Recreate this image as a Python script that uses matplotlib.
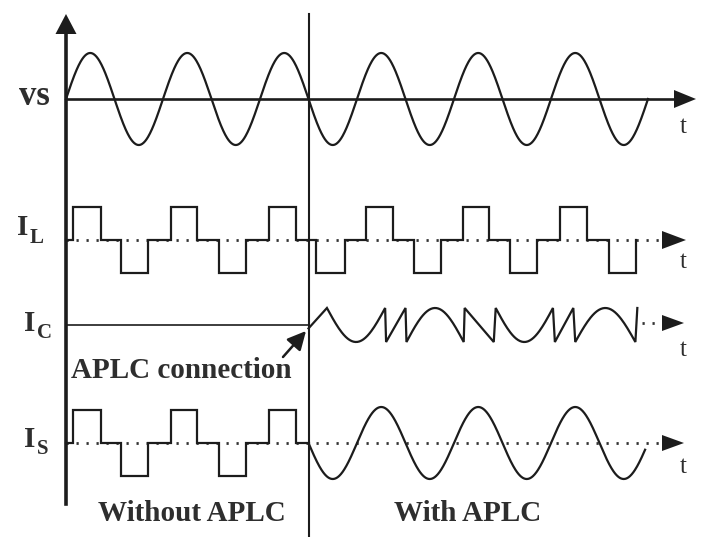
import numpy as np
import matplotlib
matplotlib.use("Agg")
import matplotlib.pyplot as plt
from matplotlib.patches import Polygon

# ---------------- waveform data (time in fundamental cycles) ----------------
T_SWITCH = 2.5                 # instant the APLC is connected

# supply voltage: plain sine
vs_span = [0.0, 6.0]
vs_amplitude = 46

# load current: quasi-square pulses, start/stop of each pulse
il_pos_on = [0.07, 1.08, 2.09, 3.09, 4.09, 5.09]
il_pos_off = [0.36, 1.35, 2.37, 3.37, 4.36, 5.37]
il_neg_on = [0.57, 1.58, 2.58, 3.59, 4.58, 5.60]
il_neg_off = [0.85, 1.86, 2.88, 3.87, 4.86, 5.88]
pulse_height = 33

# compensating current after connection: corner points and the stroke between them
ic_t = [2.50, 2.69, 3.29, 3.30, 3.50, 3.51, 4.10, 4.11, 4.41, 4.43,
        5.02, 5.04, 5.23, 5.25, 5.87, 5.89]
ic_level = [-0.2, 1, 1, -1, 1, -1, -1, 1, -1, 1,
            1, -1, 1, -1, -1, 1]
ic_stroke = ["line", "arc", "line", "line", "line", "arc", "line", "line", "line",
             "arc", "line", "line", "line", "arc", "line"]
ic_amplitude = 17

# source current once compensated: sine
is_sine_span = [2.5, 5.97]
is_amplitude = 36

row_names = ["vs", "IL", "IC", "IS"]

# ---------------- layout ----------------
W, H = 701, 537
X0, PX_PER_CYCLE = 66, 97
ROW_Y = {"vs": 99, "IL": 240, "IC": 325, "IS": 443}
INK = "#1c1c1c"
TXT = "#2e2e2e"
SERIF = "Liberation Serif"


def tx(px):
    """horizontal pixel position -> time axis value"""
    return (px - X0) / PX_PER_CYCLE


def pulse_train(t0, t1, pos_on, pos_off, neg_on, neg_off):
    pulses = [(a, b, 1) for a, b in zip(pos_on, pos_off)] + \
             [(a, b, -1) for a, b in zip(neg_on, neg_off)]
    pulses = sorted(p for p in pulses if p[0] < t1)
    ts, vs = [t0], [0]
    for a, b, lv in pulses:
        ts += [a, a, b, b]
        vs += [0, lv, lv, 0]
    if ts[-1] < t1:
        ts.append(t1)
        vs.append(0)
    return np.array(ts), np.array(vs, dtype=float)


fig = plt.figure(figsize=(W / 100, H / 100), dpi=100)
ax = fig.add_axes([0, 0, 1, 1])
ax.set_xlim(tx(0), tx(W))
ax.set_ylim(H, 0)
ax.axis("off")

wave_kw = dict(color=INK, lw=1.6, solid_joinstyle="miter", zorder=3)
dot_kw = dict(color="#333333", lw=2.0, linestyle=(0, (0.8, 2.8)), zorder=2)


def h_arrow(y, tip_px, length=22, half=8):
    ax.add_patch(Polygon([[tx(tip_px), y], [tx(tip_px - length), y - half],
                          [tx(tip_px - length), y + half]],
                         closed=True, color=INK, lw=0, zorder=4))


# vertical axis with arrow
ax.plot([0, 0], [504, 32], color=INK, lw=2.6, zorder=4)
ax.add_patch(Polygon([[0, 14], [tx(X0 - 10.5), 34], [tx(X0 + 10.5), 34]],
                     closed=True, color=INK, lw=0, zorder=4))

# divider at the connection instant
ax.plot([T_SWITCH, T_SWITCH], [14, H], color=INK, lw=1.5, zorder=4)

# ---- vs ----
t = np.linspace(vs_span[0], vs_span[1], 1200)
ax.plot(t, ROW_Y["vs"] - vs_amplitude * np.sin(2 * np.pi * t), **wave_kw)
ax.plot([0, tx(676)], [ROW_Y["vs"], ROW_Y["vs"]], color=INK, lw=1.9, zorder=3)
h_arrow(ROW_Y["vs"], 696, length=22, half=9)

# ---- IL ----
y = ROW_Y["IL"]
ax.plot([0, tx(662)], [y, y], **dot_kw)
ts, lv = pulse_train(0, il_neg_off[-1], il_pos_on, il_pos_off, il_neg_on, il_neg_off)
ax.plot(ts, y - pulse_height * lv, **wave_kw)
h_arrow(y, 686, length=24, half=9)

# ---- IC ----
y = ROW_Y["IC"]
ax.plot([0, T_SWITCH], [y, y], color=INK, lw=1.2, zorder=3)
seg_t, seg_v = [ic_t[0]], [ic_level[0]]
for i, kind in enumerate(ic_stroke):
    a, b = ic_t[i], ic_t[i + 1]
    va, vb = ic_level[i], ic_level[i + 1]
    if kind == "arc":
        u = np.linspace(0, 1, 60)[1:]
        seg_t += list(a + (b - a) * u)
        seg_v += list(va - 2 * va * np.sin(np.pi * u))
    else:
        seg_t.append(b)
        seg_v.append(vb)
ax.plot(seg_t, y - ic_amplitude * np.array(seg_v), **wave_kw)
ax.plot([tx(642), tx(662)], [y - 2, y - 2], **dot_kw)
h_arrow(y - 2, 684, length=22, half=8)

# ---- IS ----
y = ROW_Y["IS"]
ax.plot([0, tx(662)], [y, y], **dot_kw)
ts, lv = pulse_train(0, T_SWITCH, il_pos_on, il_pos_off, il_neg_on, il_neg_off)
ax.plot(ts, y - pulse_height * lv, **wave_kw)
t = np.linspace(is_sine_span[0], is_sine_span[1], 800)
ax.plot(t, y - is_amplitude * np.sin(2 * np.pi * t), **wave_kw)
h_arrow(y, 684, length=22, half=8)

# ---- labels ----
big = dict(family=SERIF, fontweight="bold", color=TXT)
ax.text(tx(50), 105, "vs", fontsize=25, ha="right", va="baseline", **big)
label_pos = {"IL": (28, 235, 243), "IC": (35, 331, 338), "IS": (35, 447, 454)}
for name in row_names[1:]:
    xr, yb, ys = label_pos[name]
    ax.text(tx(xr), yb, name[0], fontsize=21, ha="right", va="baseline", **big)
    ax.text(tx(xr + 1.5), ys, name[1], fontsize=15, ha="left", va="baseline", **big)

for yb in [133, 268, 356, 473]:
    ax.text(tx(683), yb, "t", fontsize=18, ha="center", va="baseline",
            family=SERIF, color=TXT)

ax.text(tx(71), 378, "APLC connection", fontsize=21, ha="left", va="baseline", **big)
ax.annotate("", xy=(tx(306), 331), xytext=(tx(283), 357),
            arrowprops=dict(arrowstyle="-|>,head_length=0.8,head_width=0.4",
                            mutation_scale=14, color=INK, lw=1.8,
                            shrinkA=0, shrinkB=0), zorder=5)

ax.text(tx(192), 521, "Without APLC", fontsize=21, ha="center", va="baseline", **big)
ax.text(tx(468), 521, "With APLC", fontsize=21, ha="center", va="baseline", **big)

fig.savefig("out.png", dpi=100, facecolor="white")
